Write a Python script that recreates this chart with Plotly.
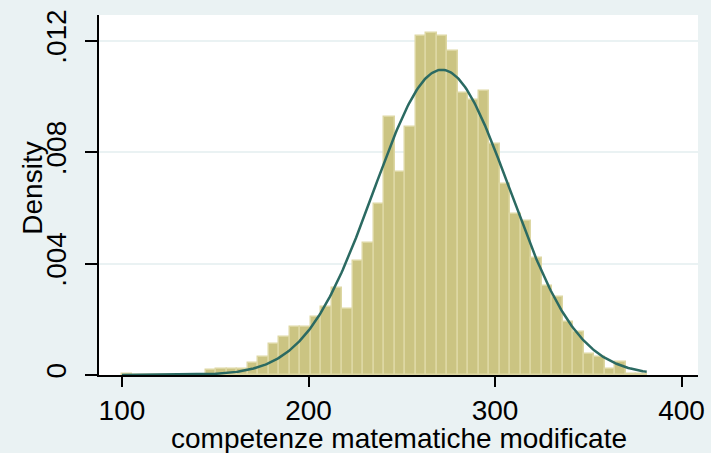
import numpy as np
import plotly.graph_objects as go

# Histogram: 50 bins starting at 100 with width 5.626
bin_start = 100.0
bin_width = 5.626
density = [
    0.00002, 0.0, 0.0, 0.0, 0.0, 0.0, 0.0, 0.0,
    0.00018, 0.00020, 0.00020, 0.00022, 0.00042, 0.00066, 0.00111, 0.00138,
    0.00171, 0.00171, 0.00209, 0.00243, 0.00313, 0.00236, 0.00410, 0.00475,
    0.00615, 0.00925, 0.00730, 0.00890, 0.01217, 0.01227, 0.01217, 0.01163,
    0.01011, 0.00987, 0.01021, 0.00828, 0.00686, 0.00577, 0.00554, 0.00421,
    0.00321, 0.00280, 0.00191, 0.00156, 0.00075, 0.00066, 0.00020, 0.00048,
    0.00003, 0.00002,
]
# Fitted normal density
norm_mean = 271.5
norm_sd = 36.4
data_min = 100.0
data_max = 381.3

x_ticks = [100, 200, 300, 400]
y_ticks = [0, 0.004, 0.008, 0.012]
y_ticklabels = ["0", ".004", ".008", ".012"]
x_title = "competenze matematiche modificate"
y_title = "Density"

centers = [bin_start + (i + 0.5) * bin_width for i in range(len(density))]
xs = np.linspace(data_min, data_max, 400)
ys = np.exp(-0.5 * ((xs - norm_mean) / norm_sd) ** 2) / (norm_sd * np.sqrt(2 * np.pi))

FONT = "Liberation Sans, Arial, sans-serif"
BG = "#EAF2F3"

fig = go.Figure()
fig.add_trace(go.Bar(
    x=centers, y=density, width=bin_width,
    marker=dict(color="#CBC482", line=dict(color="#DDD7A3", width=1.5)),
    hoverinfo="skip", showlegend=False,
))
fig.add_trace(go.Scatter(
    x=xs, y=ys, mode="lines",
    line=dict(color="#2B6A62", width=2.5),
    hoverinfo="skip", showlegend=False,
))

fig.update_layout(
    width=711, height=453,
    margin=dict(l=98.5, r=13, t=15, b=78, autoexpand=False),
    paper_bgcolor=BG, plot_bgcolor="white",
    bargap=0,
    font=dict(family=FONT, size=28, color="black"),
    xaxis=dict(
        range=[87.68, 408.8],
        tickvals=x_ticks,
        ticks="outside", ticklen=10, tickwidth=1.5, tickcolor="black",
        showline=True, linecolor="black", linewidth=1.5,
        showgrid=False, zeroline=False,
        tickfont=dict(size=28),
        automargin=False,
    ),
    yaxis=dict(
        range=[0, 0.012926],
        tickvals=y_ticks, ticktext=y_ticklabels,
        tickangle=-90,
        ticks="outside", ticklen=12, tickwidth=1.5, tickcolor="black",
        showline=True, linecolor="black", linewidth=1.5,
        showgrid=True, gridcolor=BG, gridwidth=1.5,
        zeroline=False,
        tickfont=dict(size=28),
        ticklabelstandoff=8,
        automargin=False,
    ),
    annotations=[
        dict(text=x_title, xref="paper", yref="paper", x=0.5, y=-0.176,
             xanchor="center", yanchor="middle", showarrow=False,
             font=dict(size=28)),
        dict(text=y_title, xref="paper", yref="paper", x=-0.111, y=0.519,
             xanchor="center", yanchor="middle", textangle=-90, showarrow=False,
             font=dict(size=28)),
    ],
)

fig.write_html(
    "out.html",
    config={"displayModeBar": False},
    post_script="document.body.style.margin='0';document.body.style.padding='0';document.body.style.overflow='hidden';",
)
